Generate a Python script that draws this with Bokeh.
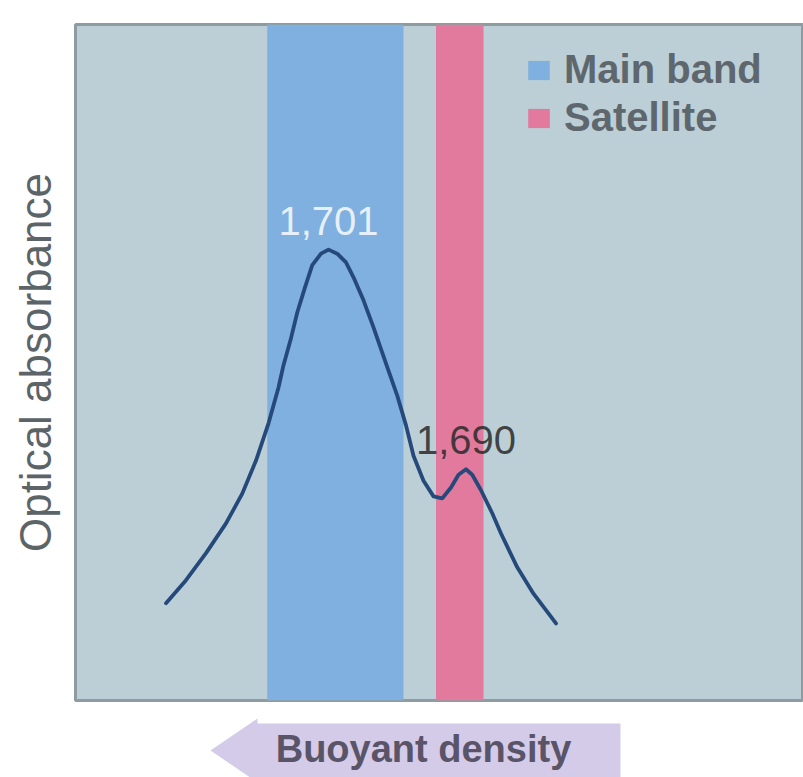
from bokeh.plotting import figure
from bokeh.models import Range1d, FixedTicker, Legend, LegendItem, ColumnDataSource
from bokeh.layouts import column
from bokeh.core.properties import value
from bokeh.embed import file_html
from bokeh.resources import INLINE

# ---- data ----
band_names = ["Main band", "Satellite"]
band_high = [1.7059, 1.6924]   # high-density edge of each band
band_low = [1.6950, 1.6886]    # low-density edge of each band
band_colors = ["#7fb0e0", "#e27a9d"]

peak_density = [1.701, 1.690]
peak_absorb = [0.667, 0.342]
peak_labels = ["1,701", "1,690"]

curve_density = [1.7140, 1.7124, 1.7108, 1.7092, 1.7079, 1.7068, 1.7058, 1.7050,
                 1.7046, 1.7040, 1.7035, 1.7029, 1.7023, 1.7016, 1.7010, 1.7003,
                 1.6996, 1.6990, 1.6982, 1.6974, 1.6963, 1.6955, 1.6948, 1.6942,
                 1.6934, 1.6926, 1.6919, 1.6912, 1.6906, 1.6900, 1.6895, 1.6888,
                 1.6879, 1.6872, 1.6859, 1.6846, 1.6828]
curve_absorb = [0.144, 0.178, 0.218, 0.262, 0.306, 0.355, 0.410, 0.463,
                0.496, 0.536, 0.574, 0.610, 0.644, 0.661, 0.667, 0.661,
                0.648, 0.626, 0.592, 0.552, 0.493, 0.451, 0.407, 0.362,
                0.325, 0.302, 0.299, 0.315, 0.334, 0.342, 0.334, 0.311,
                0.277, 0.247, 0.197, 0.158, 0.114]

y_title = "Optical absorbance"
x_title = "Buoyant density"

FONT = "Liberation Sans"

# ---- main figure ----
p = figure(width=803, height=702, output_backend="svg", toolbar_location=None,
           x_range=Range1d(1.72124, 1.6630), y_range=Range1d(0, 1),
           min_border_left=75, min_border_right=0, min_border_top=24, min_border_bottom=2)
p.background_fill_color = "#bccfd6"
p.border_fill_color = "white"
p.outline_line_color = "#8e9ca1"
p.outline_line_width = 3
p.grid.visible = False
p.xaxis.visible = False

p.yaxis.ticker = FixedTicker(ticks=[])
p.yaxis.axis_line_color = None
p.yaxis.major_tick_line_color = None
p.yaxis.minor_tick_line_color = None
p.yaxis.axis_label = y_title
p.yaxis.axis_label_text_font = FONT
p.yaxis.axis_label_text_font_size = "44px"
p.yaxis.axis_label_text_font_style = "normal"
p.yaxis.axis_label_text_color = "#5d6468"
p.yaxis.axis_label_standoff = 16

items = []
for name, hi, lo, c in zip(band_names, band_high, band_low, band_colors):
    r = p.quad(left=hi, right=lo, bottom=0, top=1, fill_color=c, line_color=None)
    items.append(LegendItem(label=name, renderers=[r]))

p.line(curve_density, curve_absorb, line_color="#25497a", line_width=3.8,
       line_join="round", line_cap="round")

lab_src = ColumnDataSource(dict(x=peak_density,
                                y=[a + 0.043 for a in peak_absorb],
                                t=peak_labels,
                                c=["#f2f6fb", "#2a2a2a"],
                                al=[0.92, 0.85]))
p.text(x="x", y="y", text="t", source=lab_src, text_color="c", text_alpha="al",
       text_align="center", text_baseline="middle",
       text_font=value(FONT), text_font_size="40px")

legend = Legend(items=items, location=(450, 560), orientation="vertical")
legend.background_fill_alpha = 0
legend.border_line_color = None
legend.padding = 0
legend.margin = 0
legend.spacing = 3
legend.glyph_width = 27
legend.glyph_height = 24
legend.label_height = 43
legend.label_standoff = 12
legend.label_text_font = FONT
legend.label_text_font_size = "40px"
legend.label_text_font_style = "bold"
legend.label_text_color = "#5e676d"
p.add_layout(legend, "center")

# ---- arrow strip below (frame is aligned with the main frame: x from 75 to 803) ----
q = figure(width=803, height=75, output_backend="svg", toolbar_location=None,
           x_range=Range1d(75, 803), y_range=Range1d(75, 0),
           min_border=0, min_border_left=75)
q.outline_line_color = None
q.background_fill_color = "white"
q.border_fill_color = "white"
q.grid.visible = False
q.xaxis.visible = False
q.yaxis.visible = False
q.patch([210, 257, 257, 620, 620, 257, 257], [48, 16, 21, 21, 90, 90, 80],
        fill_color="#d4cbe8", line_color=None)
q.text(x=[423], y=[46], text=[x_title], text_align="center", text_baseline="middle",
       text_font=value(FONT), text_font_size="38px", text_font_style="bold",
       text_color="#5a5468")

layout = column(p, q, spacing=0)
open("out.html", "w").write(file_html(layout, INLINE))
